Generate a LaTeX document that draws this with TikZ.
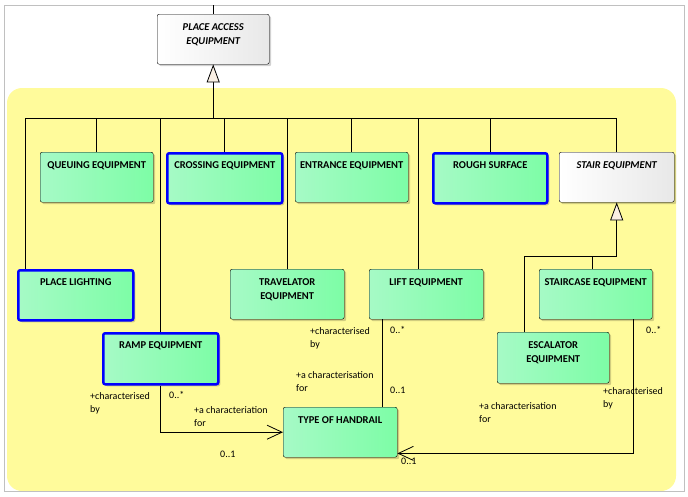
\documentclass[tikz,border=0pt]{standalone}
\usepackage{fontspec}
\setmainfont{Carlito}
\usetikzlibrary{arrows.meta, positioning, shadows}

\definecolor{pkgyellow}{RGB}{255,251,155}
\definecolor{clsgreenL}{RGB}{166,250,198}
\definecolor{clsgreenR}{RGB}{125,253,166}
\definecolor{absgrey}{RGB}{232,232,232}
\definecolor{gencream}{RGB}{250,240,228}
\definecolor{framegrey}{RGB}{192,192,192}

\begin{document}
\begin{tikzpicture}[
    x=1pt, y=-1pt,
    box/.style={draw, rounded corners=2pt, anchor=north west, minimum width=114pt, minimum height=50pt, inner sep=0pt,
      left color=clsgreenL, right color=clsgreenR,
      drop shadow={shadow xshift=2pt, shadow yshift=-2pt, fill=black, opacity=0.18}},
    absbox/.style={box, left color=white, right color=absgrey},
    selbox/.style={draw=blue, line width=2.5pt},
    title/.style={font=\fontsize{10.5}{14}\selectfont\bfseries, align=center, anchor=north, inner sep=0pt, yshift=-9.5pt},
    abstitle/.style={title, font=\fontsize{10.5}{14}\selectfont\bfseries\itshape},
    role/.style={font=\fontsize{10}{13.5}\selectfont, align=left, anchor=north west, inner sep=0pt},
    line/.style={draw, line width=0.8pt},
    gen/.style={line, -{Triangle[length=18pt, width=13pt, fill=gencream]}},
    assoc/.style={line, -{Straight Barb[length=15pt, width=14pt]}}
  ]
    \useasboundingbox (0,0) rectangle (688,496);

    % package background
    \fill[pkgyellow, rounded corners=15pt] (7,88) rectangle (676,491);
    \draw[framegrey] (4,5) rectangle (684,491);

    % parent classes
    \node[absbox, minimum width=112pt, label={[abstitle]north:PLACE ACCESS\\EQUIPMENT}] (pae) at (157,14) {};
    \coordinate (topend) at (pae.north |- 0,5);
    \draw[line] (topend) -- (pae.north);

    % first row
    \node[box, minimum width=113pt, label={[title]north:QUEUING EQUIPMENT}] (queue) at (40,152) {};
    \node[box, selbox, minimum width=115pt, label={[title]north:CROSSING EQUIPMENT}] (cross) at (166,152) {};
    \node[box, minimum width=113pt, label={[title]north:ENTRANCE EQUIPMENT}] (entr) at (295,152) {};
    \node[box, selbox, label={[title]north:ROUGH SURFACE}] (rough) at (432,152) {};
    \node[absbox, minimum width=115pt, label={[abstitle]north:STAIR EQUIPMENT}] (stair) at (559,152) {};

    % second row
    \node[box, selbox, minimum width=115pt, label={[title]north:PLACE LIGHTING}] (light) at (17,269) {};
    \node[box, label={[title]north:TRAVELATOR\\EQUIPMENT}] (trav) at (230,269) {};
    \node[box, label={[title]north:LIFT EQUIPMENT}] (lift) at (369,269) {};
    \node[box, minimum width=113pt, label={[title]north:STAIRCASE EQUIPMENT}] (stcase) at (539,269) {};

    % third row
    \node[box, selbox, minimum width=115pt, minimum height=51pt, label={[title]north:RAMP EQUIPMENT}] (ramp) at (102,332) {};
    \node[box, minimum width=112pt, minimum height=51pt, label={[title]north:ESCALATOR\\EQUIPMENT}] (escal) at (497,332) {};
    \node[box, label={[title]north:TYPE OF HANDRAIL}] (handrail) at (283,407) {};

    % generalisation to PLACE ACCESS EQUIPMENT
    \coordinate (bus1) at (pae.south |- 0,118);
    \draw[line] ([xshift=8pt]light.north west) |- (bus1);
    \draw[line] (queue.north) |- (bus1);
    \draw[line] (ramp.north) |- (bus1);
    \draw[line] (cross.north) |- (bus1);
    \draw[line] (trav.north) |- (bus1);
    \draw[line] (entr.north) |- (bus1);
    \draw[line] ([xshift=-8pt]lift.north) |- (bus1);
    \draw[line] (rough.north) |- (bus1);
    \draw[line] (stair.north) |- (bus1);
    \draw[gen] (bus1) -- (pae.south);

    % generalisation to STAIR EQUIPMENT
    \coordinate (bus2) at (stair.south |- 0,256);
    \draw[line] ([xshift=27pt]escal.north west) |- (bus2);
    \draw[line] ([xshift=-3pt]stcase.north) |- (bus2);
    \draw[gen] (bus2) -- (stair.south);

    % associations to TYPE OF HANDRAIL
    \draw[assoc] (ramp.south) |- (handrail.west);
    \draw[line] ([xshift=13pt]lift.south west) -- ([xshift=13pt]lift.south west |- handrail.north);
    \draw[assoc] ([xshift=-19pt]stcase.south east) |- ([yshift=4pt]handrail.south east);

    % role names and multiplicities
    \node[role] (rampby) at (90,392) {+characterised\\by};
    \node[role] (rampm1) at (169,391) {0..*};
    \node[role] (rampfor) at (194,406) {+a characteriation\\for};
    \node[role] (rampm2) at (220,451) {0..1};

    \node[role] (liftby) at (310,327) {+characterised\\by};
    \node[role] (liftfor) at (296,371) {+a characterisation\\for};
    \node[role] (liftm1) at (390,326) {0..*};
    \node[role] (liftm2) at (390,387) {0..1};

    \node[role] (stm1) at (646,326) {0..*};
    \node[role] (stby) at (603,387) {+characterised\\by};
    \node[role] (stfor) at (479,402) {+a characterisation\\for};
    \node[role] (stm2) at (401,458) {0..1};
\end{tikzpicture}
\end{document}
